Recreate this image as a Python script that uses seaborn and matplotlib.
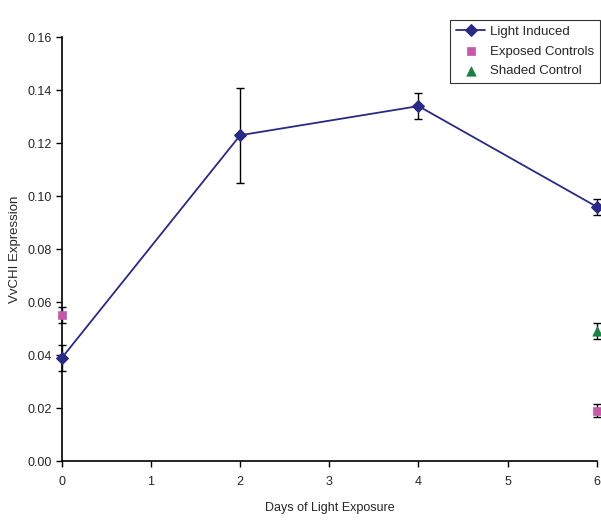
import matplotlib
matplotlib.use("Agg")
import matplotlib.pyplot as plt
import seaborn as sns
import pandas as pd

days_light = [0, 2, 4, 6]
light_induced = [0.039, 0.123, 0.134, 0.096]
light_err = [0.005, 0.018, 0.005, 0.003]

days_exposed = [0, 6]
exposed_controls = [0.055, 0.019]
exposed_err = [0.003, 0.0025]

days_shaded = [6]
shaded_control = [0.049]
shaded_err = [0.003]

x_ticks = [0, 1, 2, 3, 4, 5, 6]
y_ticks = [0.00, 0.02, 0.04, 0.06, 0.08, 0.10, 0.12, 0.14, 0.16]

sns.set_theme(style="ticks")
plt.rcParams['font.family'] = ['Liberation Sans Narrow', 'Liberation Sans', 'DejaVu Sans']

navy = "#2A2A85"
pink = "#C45AA8"
green = "#1A8040"

fig = plt.figure(figsize=(6.01, 5.24), dpi=100)
ax = fig.add_axes([0.103, 0.120, 0.890, 0.809])

df_l = pd.DataFrame({"day": days_light, "val": light_induced})
df_e = pd.DataFrame({"day": days_exposed, "val": exposed_controls})
df_s = pd.DataFrame({"day": days_shaded, "val": shaded_control})

ax.errorbar(days_light, light_induced, yerr=light_err, fmt="none", ecolor="black",
            elinewidth=1, capsize=3, capthick=1, zorder=2)
ax.errorbar(days_exposed, exposed_controls, yerr=exposed_err, fmt="none", ecolor="black",
            elinewidth=1, capsize=3, capthick=1, zorder=2)
ax.errorbar(days_shaded, shaded_control, yerr=shaded_err, fmt="none", ecolor="black",
            elinewidth=1, capsize=3, capthick=1, zorder=2)

sns.lineplot(data=df_l, x="day", y="val", ax=ax, color=navy, marker="D", markersize=6,
             markeredgecolor=navy, linewidth=1.3, label="Light Induced", zorder=3)
sns.scatterplot(data=df_e, x="day", y="val", ax=ax, color=pink, marker="s", s=40,
                edgecolor=pink, label="Exposed Controls", zorder=3)
sns.scatterplot(data=df_s, x="day", y="val", ax=ax, color=green, marker="^", s=45,
                edgecolor=green, label="Shaded Control", zorder=3)

for c in ax.collections:
    c.set_clip_on(False)
for l in ax.lines:
    l.set_clip_on(False)

ax.set_xlim(0, 6)
ax.set_ylim(0, 0.16)
ax.set_xticks(x_ticks)
ax.set_xticklabels([str(t) for t in x_ticks])
ax.set_yticks(y_ticks)
ax.set_yticklabels([f"{t:.2f}" for t in y_ticks])
ax.tick_params(axis="both", labelsize=9, length=4, width=1, color="black")
ax.tick_params(axis="y", pad=3)
ax.tick_params(axis="x", pad=7)
ax.set_xlabel("Days of Light Exposure", fontsize=9, labelpad=10)
ax.set_ylabel("VvCHI Expression", fontsize=9.5, labelpad=5)
for s in ["left", "bottom"]:
    ax.spines[s].set_color("black")
    ax.spines[s].set_linewidth(1.2)
sns.despine(ax=ax)

leg = ax.legend(loc="upper right", bbox_to_anchor=(0.999, 0.962), bbox_transform=fig.transFigure,
                borderaxespad=0, frameon=True, fancybox=False, fontsize=9.5, borderpad=0.45,
                labelspacing=0.55, handlelength=2.2, handletextpad=0.4)
leg.get_frame().set_edgecolor("black")
leg.get_frame().set_linewidth(0.8)

fig.savefig("out.png", dpi=100)
